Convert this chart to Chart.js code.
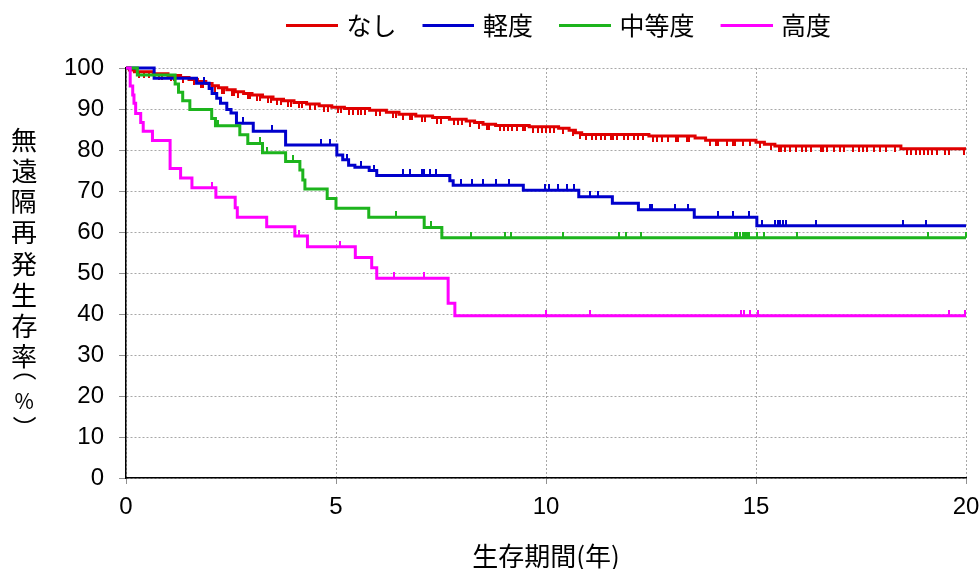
<!DOCTYPE html>
<html>
<head>
<meta charset="utf-8">
<script src="https://cdn.jsdelivr.net/npm/chart.js@4.4.1/dist/chart.umd.min.js"></script>
<style>
  html, body { margin: 0; padding: 0; background: #ffffff; }
  canvas { display: block; }
</style>
</head>
<body>
<canvas id="km" width="980" height="569"></canvas>
<script>
// ---- series ----
const SERIES_NAMES = ['なし', '軽度', '中等度', '高度'];
const SERIES_COLORS = ['#e00000', '#0000cc', '#1db41d', '#ff00ff'];

// Kaplan-Meier steps: event times (years) and survival (%) after each event
const noneTimes = [0, 0.08, 0.2, 0.65, 1.0, 1.3, 1.5, 1.7, 1.9, 2.05, 2.2, 2.4, 2.6, 2.8, 3.0, 3.25, 3.5, 3.75, 4.0, 4.3,
  4.6, 4.9, 5.2, 5.8, 6.2, 6.5, 6.9, 7.3, 7.7, 8.1, 8.3, 8.5, 8.8, 9.6, 10.3, 10.55, 10.7, 10.85, 12.45, 13.55,
  13.8, 15.0, 15.2, 15.45, 18.45];
const noneSurv = [100, 99.5, 99.1, 98.6, 98.2, 97.7, 97.2, 96.7, 96.2, 95.7, 95.2, 94.7, 94.2, 93.8, 93.4, 92.9, 92.4, 92.0, 91.6, 91.2,
  90.8, 90.4, 90.1, 89.7, 89.2, 88.7, 88.3, 87.9, 87.5, 87.1, 86.7, 86.3, 86.0, 85.7, 85.3, 84.8, 84.2, 83.8, 83.4, 82.9,
  82.4, 81.9, 81.4, 81.0, 80.3];
const noneCensor = [0.3, 0.42, 0.55, 0.78, 0.85, 1.08, 1.15, 1.35, 1.62, 1.78, 1.83, 2.12, 2.28, 2.33, 2.52, 2.58, 2.66, 2.9, 2.95,
  3.12, 3.2, 3.38, 3.45, 3.6, 3.68, 3.85, 3.92, 4.12, 4.2, 4.38, 4.5, 4.72, 4.8, 5.05, 5.12, 5.3, 5.4, 5.52, 5.6, 5.7,
  5.95, 6.05, 6.35, 6.42, 6.6, 6.75, 6.8, 7.05, 7.12, 7.4, 7.5, 7.82, 7.9, 8.0, 8.2, 8.4, 8.6, 8.65, 8.9, 9.0, 9.1,
  9.2, 9.3, 9.45, 9.5, 9.7, 9.8, 9.9, 10.0, 10.1, 10.2, 10.4, 10.65, 10.8, 10.95, 11.1, 11.2, 11.3, 11.4, 11.55, 11.6,
  11.7, 11.85, 11.95, 12.1, 12.2, 12.3, 12.55, 12.65, 12.75, 12.9, 13.1, 13.15, 13.35, 13.4, 13.9, 14.05, 14.1, 14.3,
  14.45, 14.5, 14.7, 14.85, 15.1, 15.35, 15.55, 15.6, 15.7, 15.8, 15.95, 16.1, 16.2, 16.3, 16.55, 16.6, 16.7, 16.85,
  17.0, 17.1, 17.3, 17.45, 17.55, 17.65, 17.8, 17.95, 18.1, 18.3, 18.6, 18.7, 18.8, 18.9, 19.0, 19.1, 19.2, 19.3,
  19.5, 19.6, 19.95];

const mildTimes = [0, 0.67, 1.68, 1.98, 2.05, 2.16, 2.25, 2.4, 2.5, 2.63, 3.03, 3.8, 5.02, 5.16, 5.3, 5.45, 5.79, 5.97, 7.71, 7.79,
  9.46, 10.78, 11.58, 12.2, 13.53, 15.02];
const mildSurv = [100, 97.5, 96.3, 95.0, 93.8, 92.6, 91.4, 89.9, 89.0, 86.5, 84.6, 81.2, 78.8, 77.6, 76.3, 75.8, 75.0, 73.8, 72.5, 71.4,
  70.2, 68.6, 67.0, 65.4, 63.6, 61.5];
const mildCensor = [1.86, 2.78, 3.47, 4.64, 4.86, 5.25, 5.59, 5.9, 6.59, 6.76, 7.04, 7.1, 7.24, 7.38, 7.97, 8.23, 8.49, 8.81, 9.13,
  9.98, 10.08, 10.29, 10.49, 10.67, 11.05, 11.23, 12.48, 12.52, 13.07, 13.37, 14.1, 14.46, 14.83, 15.14, 15.45, 15.52,
  15.58, 15.65, 15.72, 16.42, 18.51, 19.05];

const moderateTimes = [0, 0.27, 1.17, 1.25, 1.35, 1.52, 2.04, 2.13, 2.71, 2.9, 3.25, 3.8, 4.14, 4.21, 4.26, 4.79, 5.0, 5.78, 7.1, 7.52];
const moderateSurv = [100, 98.3, 96.1, 94.1, 92.0, 89.9, 87.7, 85.9, 83.7, 81.6, 79.3, 77.2, 75.1, 72.7, 70.5, 68.2, 65.8, 63.6, 61.1, 58.6];
const moderateCensor = [2.2, 3.2, 3.36, 3.98, 6.43, 7.26, 8.22, 9.03, 9.17, 10.41, 11.74, 11.9, 12.25, 14.5, 14.55, 14.62, 14.68,
  14.74, 14.78, 14.83, 15.02, 15.2, 15.98, 19.1, 20.0];

const severeTimes = [0, 0.1, 0.16, 0.19, 0.23, 0.35, 0.41, 0.63, 1.05, 1.3, 1.57, 2.14, 2.6, 2.65, 3.35, 4.02, 4.32, 5.46, 5.85, 5.97, 7.67, 7.83];
const severeSurv = [100, 95.6, 93.4, 91.4, 88.9, 86.7, 84.6, 82.3, 75.5, 73.2, 70.8, 68.5, 65.9, 63.6, 61.3, 59.0, 56.4, 53.8, 51.3, 48.7, 42.6, 39.6];
const severeCensor = [2.04, 4.12, 5.1, 6.39, 7.1, 10.0, 11.05, 14.65, 14.72, 14.85, 15.05, 19.6, 19.98];

// ---- axes ----
const X_TICKS = [0, 5, 10, 15, 20];
const Y_TICKS = [0, 10, 20, 30, 40, 50, 60, 70, 80, 90, 100];
const X_TITLE = '生存期間(年)';
const Y_TITLE = '無遠隔再発生存率（%）';

const X_MAX = X_TICKS[X_TICKS.length - 1];
const JP_FONT = '"Noto Sans CJK JP", "Noto Sans", sans-serif';
const NUM_FONT = '"Liberation Sans", Arial, sans-serif';

// survival level of a step curve at time t
function levelAt(times, surv, t) {
  let v = surv[0];
  for (let i = 0; i < times.length; i++) {
    if (times[i] <= t) v = surv[i]; else break;
  }
  return v;
}

// small vertical tick used as the censoring mark
function tickImage(color, down) {
  const c = document.createElement('canvas');
  c.width = 2; c.height = 12;
  const g = c.getContext('2d');
  g.fillStyle = color;
  g.fillRect(0, down ? 6 : 0, 2, 6);
  return c;
}

// legend swatch: a short line in the right part of the legend box
function legendImage(color) {
  const c = document.createElement('canvas');
  c.width = 69; c.height = 3;
  const g = c.getContext('2d');
  g.fillStyle = color;
  g.fillRect(17, 0, 52, 3);
  return c;
}

const groups = [
  { times: noneTimes, surv: noneSurv, censor: noneCensor, down: true },
  { times: mildTimes, surv: mildSurv, censor: mildCensor, down: false },
  { times: moderateTimes, surv: moderateSurv, censor: moderateCensor, down: false },
  { times: severeTimes, surv: severeSurv, censor: severeCensor, down: false }
];

const datasets = [];
groups.forEach((g, i) => {
  const color = SERIES_COLORS[i];
  const steps = g.times.map((t, k) => ({ x: t, y: g.surv[k] }));
  steps.push({ x: X_MAX, y: g.surv[g.surv.length - 1] });
  datasets.push({
    label: SERIES_NAMES[i],
    data: steps,
    borderColor: color,
    backgroundColor: color,
    borderWidth: 3,
    stepped: true,
    pointRadius: 0,
    fill: false,
    clip: 6,
    order: 10 - i * 2
  });
  datasets.push({
    label: SERIES_NAMES[i] + ' censor',
    data: g.censor.map(t => ({ x: t, y: levelAt(g.times, g.surv, t) })),
    showLine: false,
    pointStyle: tickImage(color, g.down),
    pointRadius: 3,
    borderColor: color,
    backgroundColor: color,
    clip: 8,
    order: 9 - i * 2
  });
});

const legendImages = SERIES_COLORS.map(legendImage);

// draws one glyph with its ink box centred on (cx, cy), optionally turned
function glyphAt(ctx, ch, cx, cy, angle) {
  ctx.save();
  ctx.translate(cx, cy);
  if (angle) ctx.rotate(angle);
  ctx.textAlign = 'left';
  ctx.textBaseline = 'alphabetic';
  const m = ctx.measureText(ch);
  const x0 = (m.actualBoundingBoxLeft - m.actualBoundingBoxRight) / 2;
  const y0 = (m.actualBoundingBoxAscent - m.actualBoundingBoxDescent) / 2;
  ctx.fillText(ch, x0, y0);
  ctx.restore();
}

// stacked (vertical) y-axis title; brackets are turned for vertical writing
const yTitlePlugin = {
  id: 'yTitle',
  afterDraw(chart) {
    const { ctx, chartArea } = chart;
    const chars = Array.from(Y_TITLE);
    ctx.save();
    ctx.fillStyle = '#000';
    let y = chartArea.top + 72;
    chars.forEach((ch, k) => {
      if (ch === '%') {
        ctx.font = '21px ' + JP_FONT;
        y += 25;
        glyphAt(ctx, ch, 24, y, 0);
      } else if (ch === '（' || ch === '）') {
        ctx.font = '24px ' + JP_FONT;
        y += (ch === '（') ? 20 : 19;
        glyphAt(ctx, ch, 24, y, Math.PI / 2);
      } else {
        ctx.font = '26px ' + JP_FONT;
        if (k > 0) y += 30.9;
        glyphAt(ctx, ch, 24, y, 0);
      }
    });
    ctx.restore();
  }
};

// nudges the centred legend row sideways
const legendShift = {
  id: 'legendShift',
  afterLayout(chart) {
    const lg = chart.legend;
    if (lg) { lg.left += 6; lg.right += 6; }
  }
};

new Chart(document.getElementById('km'), {
  type: 'line',
  data: { datasets },
  options: {
    responsive: false,
    devicePixelRatio: 1,
    animation: false,
    events: [],
    layout: { padding: 0 },
    plugins: {
      tooltip: { enabled: false },
      legend: {
        display: true,
        position: 'top',
        fullSize: false,
        labels: {
          usePointStyle: true,
          pointStyleWidth: 61,
          padding: 13,
          color: '#000',
          font: { family: JP_FONT, size: 25 },
          generateLabels: () => SERIES_NAMES.map((name, i) => ({
            text: name,
            fontColor: '#000',
            fillStyle: SERIES_COLORS[i],
            strokeStyle: SERIES_COLORS[i],
            lineWidth: 0,
            pointStyle: legendImages[i],
            hidden: false,
            datasetIndex: i * 2
          }))
        }
      },
      subtitle: {
        display: true,
        text: '',
        position: 'top',
        weight: 500,
        font: { size: 1, lineHeight: 1 },
        padding: { top: 19, bottom: 0 }
      },
      title: { display: false }
    },
    scales: {
      x: {
        type: 'linear',
        min: 0,
        max: X_MAX,
        afterBuildTicks: s => { s.ticks = X_TICKS.map(v => ({ value: v })); },
        afterFit: s => { s.height = 91; s.paddingLeft = 0; s.paddingRight = 14; },
        grid: { color: '#a8a8a8', lineWidth: 1, tickColor: '#909090', tickLength: 6, drawTicks: true },
        border: { display: true, color: '#000', width: 1.5, dash: [2, 2] },
        ticks: { color: '#000', font: { family: NUM_FONT, size: 24 }, padding: 9, maxRotation: 0 },
        title: { display: true, text: X_TITLE, color: '#000', font: { family: JP_FONT, size: 26, lineHeight: 1 }, padding: { top: 0, bottom: 0 } }
      },
      y: {
        type: 'linear',
        min: 0,
        max: 100,
        afterBuildTicks: s => { s.ticks = Y_TICKS.map(v => ({ value: v })); },
        afterFit: s => { s.width = 126; s.paddingTop = 0; s.paddingBottom = 0; },
        grid: { color: '#a8a8a8', lineWidth: 1, tickColor: '#909090', tickLength: 7, drawTicks: true },
        border: { display: true, color: '#000', width: 1.5, dash: [2, 2] },
        ticks: { color: '#000', font: { family: NUM_FONT, size: 24 }, padding: 15 }
      }
    }
  },
  plugins: [yTitlePlugin, legendShift]
});
</script>
</body>
</html>
